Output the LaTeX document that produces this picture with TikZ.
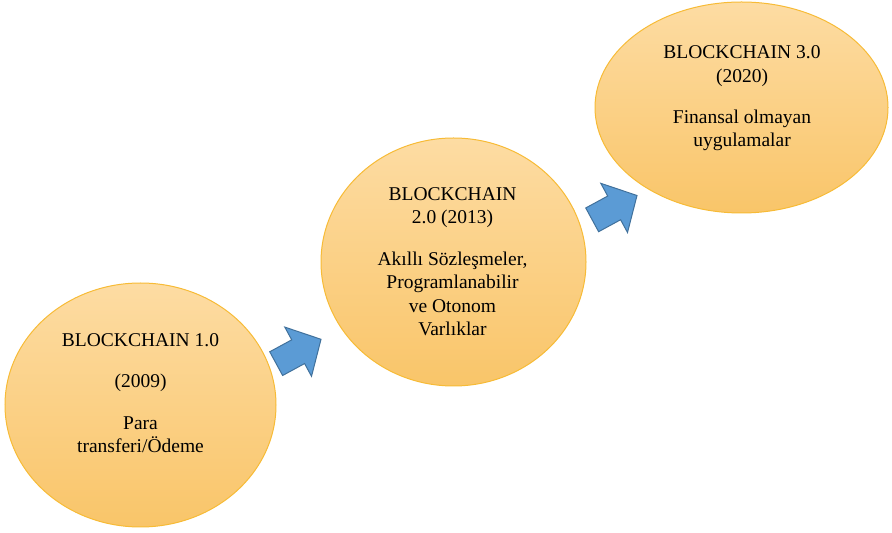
\documentclass[tikz,border=0pt]{standalone}
\usepackage{fontspec}
\setmainfont{Liberation Serif}
\usetikzlibrary{shapes.geometric}
\definecolor{ftop}{HTML}{FDDCA3}
\definecolor{fbot}{HTML}{F9C569}
\definecolor{ebord}{HTML}{F7BB36}
\definecolor{afill}{HTML}{5B9BD5}
\definecolor{abord}{HTML}{41719C}
\begin{document}
\begin{tikzpicture}[x=1pt,y=1pt,
  phase/.style={ellipse, draw=ebord, line width=1pt, top color=ftop, bottom color=fbot, inner sep=0pt},
  lbl/.style={align=center, font=\fontsize{19.5}{23.6}\selectfont, anchor=base, text=black, inner sep=0pt},
  blockarrow/.pic={\draw[fill=afill, draw=abord, line width=1pt, line join=miter]
     (0,0) -- (-26,28) -- (-26,13.5) -- (-51,13.5) -- (-51,-13.5) -- (-26,-13.5) -- (-26,-28) -- cycle;}]
\useasboundingbox (0,0) rectangle (892,533);
\node[phase, minimum width=271pt, minimum height=244pt] (e1) at (140.5,128) {};
\node[phase, minimum width=265pt, minimum height=248pt] (e2) at (453.5,271) {};
\node[phase, minimum width=293pt, minimum height=211pt] (e3) at (741.5,425.5) {};
\node[lbl] (t1) at (140.5,80.3) {BLOCKCHAIN 1.0\\[17.6pt] (2009)\\[17.6pt] Para\\ transferi/Ödeme};
\node[lbl] (t2) at (452.5,197) {BLOCKCHAIN\\ 2.0 (2013)\\[17.6pt] Akıllı Sözleşmeler,\\ Programlanabilir\\ ve Otonom\\ Varlıklar};
\node[lbl] (t3) at (742,386) {BLOCKCHAIN 3.0\\ (2020)\\[17.6pt] Finansal olmayan\\ uygulamalar};
\coordinate (a1) at (321,193.7);
\coordinate (a2) at (637,337.5);
\pic[rotate=28.5] at (a1) {blockarrow};
\pic[rotate=28.5] at (a2) {blockarrow};
\end{tikzpicture}
\end{document}
